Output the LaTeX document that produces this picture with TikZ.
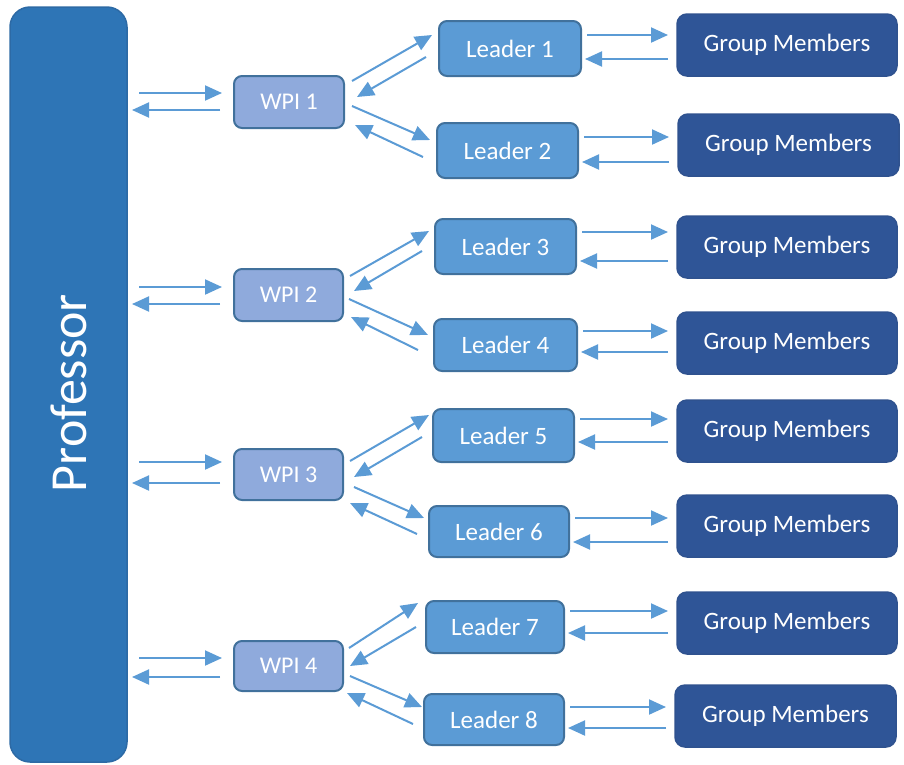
\documentclass[tikz,border=0pt]{standalone}
\usepackage{fontspec}
\setmainfont{Carlito}
\usetikzlibrary{calc,arrows.meta}
\definecolor{profC}{HTML}{2E75B6}
\definecolor{profB}{HTML}{2D6AA5}
\definecolor{wpiC}{HTML}{8FAADC}
\definecolor{boxB}{HTML}{41719C}
\definecolor{leadC}{HTML}{5B9BD5}
\definecolor{gmC}{HTML}{2F5597}
\definecolor{gmB}{HTML}{2F528F}
\definecolor{arrC}{HTML}{5B9BD5}
\tikzset{
  basebox/.style={rectangle, inner sep=0pt, outer sep=0pt, text=white, font=\fontsize{25}{25}\selectfont},
  wpibox/.style={basebox, fill=wpiC, draw=boxB, line width=2pt, rounded corners=8pt, font=\fontsize{24}{24}\selectfont},
  leadbox/.style={basebox, fill=leadC, draw=boxB, line width=2pt, rounded corners=8pt},
  gmbox/.style={basebox, fill=gmC, draw=gmB, line width=1.5pt, rounded corners=10pt, minimum width=220pt, minimum height=62pt},
  arr/.style={draw=arrC, line width=2pt, -{Triangle[length=17pt,width=15pt]}}
}
\begin{document}
\begin{tikzpicture}[x=1pt,y=-1pt]
\useasboundingbox (0,0) rectangle (904,764);
\node[rectangle, fill=profC, draw=profB, line width=1.5pt, rounded corners=20pt, minimum width=117pt, minimum height=755pt, inner sep=0pt, outer sep=0pt] (prof) at (68.5,384.5) {};
\node[text=white, font=\fontsize{52}{52}\selectfont, rotate=90, inner sep=0pt] (proftext) at (69,393) {Professor};

\node[wpibox, minimum width=110pt, minimum height=52pt] (w1) at (289,102) {WPI 1};
\node[wpibox, minimum width=109pt, minimum height=52pt] (w2) at (288.5,295) {WPI 2};
\node[wpibox, minimum width=109pt, minimum height=51pt] (w3) at (288.5,474.5) {WPI 3};
\node[wpibox, minimum width=109pt, minimum height=50pt] (w4) at (288.5,666) {WPI 4};

\node[leadbox, minimum width=142pt, minimum height=55pt] (l1) at (510,48.5) {Leader 1};
\node[leadbox, minimum width=141pt, minimum height=55pt] (l2) at (507.5,150.5) {Leader 2};
\node[leadbox, minimum width=141pt, minimum height=55pt] (l3) at (505.5,246.5) {Leader 3};
\node[leadbox, minimum width=143pt, minimum height=52pt] (l4) at (505.5,345) {Leader 4};
\node[leadbox, minimum width=141pt, minimum height=53pt] (l5) at (503.5,435.5) {Leader 5};
\node[leadbox, minimum width=140pt, minimum height=51pt] (l6) at (499,531.5) {Leader 6};
\node[leadbox, minimum width=138pt, minimum height=52pt] (l7) at (495,627) {Leader 7};
\node[leadbox, minimum width=140pt, minimum height=51pt] (l8) at (494,719.5) {Leader 8};

\node[gmbox] (g1) at (787,45) {Group Members};
\node[gmbox, minimum width=221pt] (g2) at (788.5,145) {Group Members};
\node[gmbox] (g3) at (787,247) {Group Members};
\node[gmbox] (g4) at (787,343) {Group Members};
\node[gmbox] (g5) at (787,431) {Group Members};
\node[gmbox] (g6) at (787,526) {Group Members};
\node[gmbox] (g7) at (787,623) {Group Members};
\node[gmbox, minimum width=221pt] (g8) at (785.5,716) {Group Members};

% Professor <-> WPI
\foreach \i/\a/\b in {1/93/110, 2/287/304, 3/462/483, 4/658/677}{
  \draw[arr] ($(prof.east |- 0,\a)+(12,0)$) -- ($(w\i.west |- 0,\a)+(-12,0)$);
  \draw[arr] ($(w\i.west |- 0,\b)+(-14,0)$) -- ($(prof.east |- 0,\b)+(5,0)$);
}

% Leader <-> Group Members
\foreach \i/\a/\b in {1/35/59, 2/137/162, 3/232/261, 4/331/352, 5/419/442, 6/518/542, 7/611/633, 8/707/728}{
  \draw[arr] ($(l\i.east |- 0,\a)+(6,0)$) -- ($(g\i.west |- 0,\a)+(-9,0)$);
  \draw[arr] ($(g\i.west |- 0,\b)+(-9,0)$) -- ($(l\i.east |- 0,\b)+(4,0)$);
}

% WPI 1
\draw[arr] ($(w1.east)+(8,-21)$) -- ($(l1.west)+(-7,-13.5)$);
\draw[arr] ($(l1.west)+(-13,8.5)$) -- ($(w1.east)+(13,-5)$);
\draw[arr] ($(w1.east)+(8,4)$) -- ($(l2.west)+(-7,-10.5)$);
\draw[arr] ($(l2.west)+(-14,6.5)$) -- ($(w1.east)+(11,23)$);
% WPI 2
\draw[arr] ($(w2.east)+(7,-19)$) -- ($(l3.west)+(-6,-15.5)$);
\draw[arr] ($(l3.west)+(-13,4.5)$) -- ($(w2.east)+(11,-4)$);
\draw[arr] ($(w2.east)+(6,4)$) -- ($(l4.west)+(-6,-10)$);
\draw[arr] ($(l4.west)+(-16,5)$) -- ($(w2.east)+(8,22)$);
% WPI 3
\draw[arr] ($(w3.east)+(7,-13.5)$) -- ($(l5.west)+(-4,-20.5)$);
\draw[arr] ($(l5.west)+(-11,1.5)$) -- ($(w3.east)+(11,2.5)$);
\draw[arr] ($(w3.east)+(11,12.5)$) -- ($(l6.west)+(-5,-13.5)$);
\draw[arr] ($(l6.west)+(-12,2.5)$) -- ($(w3.east)+(7,28.5)$);
% WPI 4
\draw[arr] ($(w4.east)+(6,-18)$) -- ($(l7.west)+(-8,-24)$);
\draw[arr] ($(l7.west)+(-10,0)$) -- ($(w4.east)+(7,0)$);
\draw[arr] ($(w4.east)+(7,10)$) -- ($(l8.west)+(-2,-12.5)$);
\draw[arr] ($(l8.west)+(-11,4.5)$) -- ($(w4.east)+(4,27)$);
\end{tikzpicture}
\end{document}
